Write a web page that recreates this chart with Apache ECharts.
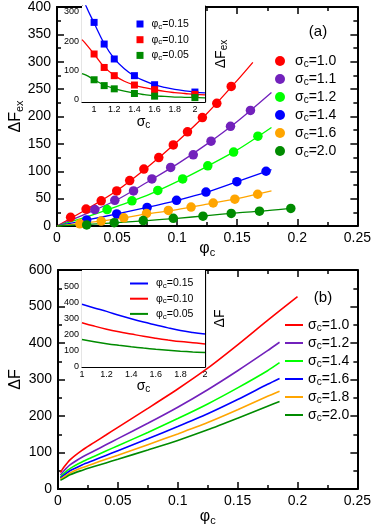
<!doctype html>
<html>
<head>
<meta charset="UTF-8"/>
<title>ΔF vs φc</title>
<script src="https://cdn.jsdelivr.net/npm/echarts@6/dist/echarts.min.js"></script>
<style>
html,body{margin:0;padding:0;background:#fff;}
#chart{width:374px;height:527px;}
</style>
</head>
<body>
<div id="chart"></div>
<script>
var FONT = "'Liberation Sans', Arial, sans-serif";

// ---- panel (a): simulation points (phi_c, dF_ex) and fitted lines
var sigmaA = ['1.0', '1.1', '1.2', '1.4', '1.6', '2.0'];
var colorsA = ['#ff0000', '#7221bc', '#00ff00', '#0000ff', '#ffa500', '#008b00'];

var ptsA10 = [[0.0113,16],[0.0242,31],[0.0368,46],[0.0497,64],[0.0605,83],[0.0723,104],[0.0847,125],[0.0968,148],[0.1086,172],[0.121,198],[0.133,224],[0.145,255]];
var ptsA11 = [[0.0315,30],[0.0481,47],[0.0637,64],[0.079,86],[0.0946,107],[0.1134,130],[0.1282,155],[0.1444,182],[0.161,211]];
var ptsA12 = [[0.0417,30],[0.0624,46],[0.0839,65],[0.1046,86],[0.1255,110],[0.147,135],[0.1672,164]];
var ptsA14 = [[0.0247,11],[0.0497,22],[0.075,34],[0.0995,47],[0.124,62],[0.1497,81],[0.174,100]];
var ptsA16 = [[0.019,4],[0.0368,9],[0.0556,15],[0.0745,23],[0.0927,28.5],[0.1116,34.5],[0.13,42],[0.148,49],[0.167,58]];
var ptsA20 = [[0.0247,2],[0.0476,6],[0.0718,10],[0.0968,14],[0.1215,18],[0.145,23],[0.1685,27],[0.1946,32]];

var fitA10 = [[0,0],[0.025,31],[0.05,65],[0.075,107],[0.1,154],[0.125,206],[0.15,266],[0.163,299]];
var fitA11 = [[0,0],[0.025,23],[0.05,48],[0.075,80],[0.1,113],[0.125,150],[0.15,191],[0.1785,244]];
var fitA12 = [[0,0],[0.025,17],[0.05,36],[0.075,56],[0.1,81],[0.125,109],[0.15,139],[0.1785,180]];
var fitA14 = [[0,0],[0.025,11],[0.05,22],[0.075,34],[0.1,47],[0.125,62],[0.15,81],[0.1785,103]];
var fitA16 = [[0,0],[0.025,6],[0.05,13],[0.075,22],[0.1,30],[0.125,40],[0.15,50],[0.1785,64]];
var fitA20 = [[0,0],[0.025,3],[0.05,6],[0.075,10],[0.1,14],[0.125,19],[0.15,24],[0.175,28],[0.198,33]];

// inset (a): dF_ex vs sigma_c
var phiIns = ['0.15', '0.10', '0.05'];
var colorsIns = ['#0000ff', '#ff0000', '#008b00'];
var sigPts = [1.0, 1.1, 1.2, 1.4, 1.6, 2.0];
var insA15 = [264, 190, 139, 82, 51, 26];
var insA10 = [156, 110, 82, 50, 34, 18];
var insA05 = [68, 48, 37, 21, 12, 7];
var sigFitA = [0.88, 0.92, 1.0, 1.1, 1.2, 1.3, 1.4, 1.5, 1.6, 1.7, 1.8, 1.9, 2.0, 2.1];
var fitInsA15 = [360, 320, 262, 192, 140, 106, 81, 64, 51, 42, 35, 30, 26, 23];
var fitInsA10 = [205, 190, 156, 112, 83, 63, 50, 41, 34, 28, 24, 21, 18, 16];
var fitInsA05 = [89, 84, 68, 50, 38, 29, 22, 17, 13, 11, 9, 8, 7, 6];

// ---- panel (b): dF vs phi_c
var sigmaB = ['1.0', '1.2', '1.4', '1.6', '1.8', '2.0'];
var colorsB = ['#ff0000', '#7221bc', '#00ff00', '#0000ff', '#ffa500', '#008b00'];
var phiB = [0.002, 0.005, 0.01, 0.02, 0.03, 0.04, 0.05, 0.075, 0.1, 0.125, 0.15, 0.175, 0.185];
var phiB10 = [0.002, 0.005, 0.01, 0.02, 0.03, 0.04, 0.05, 0.075, 0.1, 0.125, 0.15, 0.175, 0.2];
var curB10 = [45, 60, 80, 106, 127, 148, 169, 221, 274, 331, 395, 462, 527];
var curB12 = [38, 50, 66, 87, 104, 121, 138, 180, 224, 272, 324, 379, 402];
var curB14 = [33, 43, 56, 74, 89, 104, 118.5, 155, 193, 233, 277, 324, 346];
var curB16 = [30, 38, 50, 66, 79, 92, 105, 137.5, 171, 206, 245, 287, 303];
var curB18 = [27, 33, 44, 58, 70, 81.5, 92.5, 121.5, 151, 182, 217, 254, 268];
var curB20 = [24, 29, 39, 51, 61.5, 71.5, 81.5, 107, 133, 162, 194, 227, 240];

// inset (b): dF vs sigma_c
var sigB = [1.0, 1.1, 1.2, 1.3, 1.4, 1.5, 1.6, 1.7, 1.8, 1.9, 2.0];
var insB15 = [388, 365, 344, 320, 298, 278, 260, 242, 226, 214, 204];
var insB10 = [274, 253, 234, 218, 204, 190, 178, 167, 157, 150, 143];
var insB05 = [170, 156, 144, 134, 125, 117, 110, 104, 98, 93, 89];

function zip(xs, ys) {
    return ys.map(function (y, i) { return [xs[i], y]; });
}

var nameRich = {
    a: { fontSize: 16, lineHeight: 18, fontFamily: FONT, color: '#000' },
    b: { fontSize: 11, lineHeight: 6, verticalAlign: 'bottom', fontFamily: FONT, color: '#000' }
};
var nameRichSmall = {
    a: { fontSize: 14, lineHeight: 16, fontFamily: FONT, color: '#000' },
    b: { fontSize: 10, lineHeight: 5, verticalAlign: 'bottom', fontFamily: FONT, color: '#000' }
};

function axis(grid, pos, min, max, interval, label, small) {
    var lw = small ? 1.2 : 2;
    var o = {
        gridIndex: grid, type: 'value', position: pos, min: min, max: max,
        axisLine: { show: true, onZero: false, lineStyle: { color: '#000', width: lw } },
        axisTick: { show: true, inside: true, length: small ? 4 : 7, lineStyle: { color: '#000', width: small ? 1 : 1.5 } },
        minorTick: { show: true, splitNumber: 2, length: small ? 2.5 : 4, lineStyle: { color: '#000', width: small ? 1 : 1.5 } },
        splitLine: { show: false },
        minorSplitLine: { show: false },
        axisLabel: { show: label, color: '#000', fontSize: small ? 9 : 14, fontFamily: FONT, margin: small ? 3 : 5 },
        nameMoveOverlap: false
    };
    if (interval) o.interval = interval;
    return o;
}

// axes: 0 a-main, 1 a-inset, 2 b-main, 3 b-inset (bottom/top, left/right pairs)
var xAxes = [], yAxes = [];

var xa = axis(0, 'bottom', 0, 0.25, 0.05, true, false);
xa.name = '{a|φ}{b|c}'; xa.nameLocation = 'middle'; xa.nameGap = 14; xa.nameTextStyle = { rich: nameRich };
xAxes.push(xa, axis(0, 'top', 0, 0.25, 0.05, false, false));
var ya = axis(0, 'left', 0, 400, 50, true, false);
ya.axisLabel.margin = 6;
ya.name = '{a|ΔF}{b|ex}'; ya.nameLocation = 'middle'; ya.nameGap = 32; ya.nameRotate = 90; ya.nameTextStyle = { rich: nameRich };
yAxes.push(ya, axis(0, 'right', 0, 400, 50, false, false));

var xai = axis(1, 'bottom', 0.88, 2.1, null, true, true);
xai.axisLabel.customValues = [1, 1.2, 1.4, 1.6, 1.8, 2];
xai.axisLabel.formatter = function (v) { return String(Math.round(v * 10) / 10); };
xai.axisTick.customValues = [0.9, 1, 1.1, 1.2, 1.3, 1.4, 1.5, 1.6, 1.7, 1.8, 1.9, 2, 2.1];
xai.minorTick.show = false;
xai.name = '{a|σ}{b|c}'; xai.nameLocation = 'middle'; xai.nameGap = 12; xai.nameTextStyle = { rich: nameRichSmall };
var xait = axis(1, 'top', 0.88, 2.1, null, false, true);
xait.axisTick.customValues = xai.axisTick.customValues;
xait.minorTick.show = false;
xAxes.push(xai, xait);
var yai = axis(1, 'left', -8, 320, null, true, true);
yai.axisLabel.customValues = [0, 100, 200, 300];
yai.axisTick.customValues = [0, 50, 100, 150, 200, 250, 300];
yai.minorTick.show = false;
var yair = axis(1, 'right', -8, 320, null, false, true);
yair.axisTick.customValues = yai.axisTick.customValues;
yair.minorTick.show = false;
yair.name = '{a|ΔF}{b|ex}'; yair.nameLocation = 'middle'; yair.nameGap = 8; yair.nameRotate = 90; yair.nameTextStyle = { rich: nameRichSmall };
yAxes.push(yai, yair);

var xb = axis(2, 'bottom', 0, 0.25, 0.05, true, false);
xb.name = '{a|φ}{b|c}'; xb.nameLocation = 'middle'; xb.nameGap = 19; xb.nameTextStyle = { rich: nameRich };
xAxes.push(xb, axis(2, 'top', 0, 0.25, 0.05, false, false));
var yb = axis(2, 'left', 0, 600, 100, true, false);
yb.axisLabel.margin = 6;
yb.name = '{a|ΔF}'; yb.nameLocation = 'middle'; yb.nameGap = 33; yb.nameRotate = 90; yb.nameTextStyle = { rich: nameRich };
yAxes.push(yb, axis(2, 'right', 0, 600, 100, false, false));

var xbi = axis(3, 'bottom', 1, 2, 0.2, true, true);
xbi.axisLabel.formatter = function (v) { return String(Math.round(v * 10) / 10); };
xbi.name = '{a|σ}{b|c}'; xbi.nameLocation = 'middle'; xbi.nameGap = 11; xbi.nameTextStyle = { rich: nameRichSmall };
xAxes.push(xbi, axis(3, 'top', 1, 2, 0.2, false, true));
var ybi = axis(3, 'left', 0, 600, 100, true, true);
ybi.axisLabel.showMaxLabel = false;
var ybir = axis(3, 'right', 0, 600, 100, false, true);
ybir.name = '{a|ΔF}'; ybir.nameLocation = 'middle'; ybir.nameGap = 7; ybir.nameRotate = 90; ybir.nameTextStyle = { rich: nameRichSmall };
yAxes.push(ybi, ybir);

// series
var series = [];
var ptsA = [ptsA10, ptsA11, ptsA12, ptsA14, ptsA16, ptsA20];
var fitA = [fitA10, fitA11, fitA12, fitA14, fitA16, fitA20];
sigmaA.forEach(function (s, i) {
    series.push({
        name: 'fa' + s, type: 'line', xAxisIndex: 0, yAxisIndex: 0, data: fitA[i],
        showSymbol: false, smooth: 0.3, z: 2, lineStyle: { color: colorsA[i], width: 1.3 }, itemStyle: { color: colorsA[i] }
    });
    series.push({
        name: 'a' + s, type: 'scatter', xAxisIndex: 0, yAxisIndex: 0, data: ptsA[i],
        symbol: 'circle', symbolSize: 9.5, z: 3, itemStyle: { color: colorsA[i], opacity: 1 }
    });
});

var insAPts = [insA15, insA10, insA05];
var insAFit = [fitInsA15, fitInsA10, fitInsA05];
phiIns.forEach(function (p, i) {
    series.push({
        name: 'fi' + p, type: 'line', xAxisIndex: 2, yAxisIndex: 2, data: zip(sigFitA, insAFit[i]),
        showSymbol: false, smooth: 0.4, z: 4, lineStyle: { color: colorsIns[i], width: 1.3 }, itemStyle: { color: colorsIns[i] }
    });
    series.push({
        name: 'ia' + p, type: 'scatter', xAxisIndex: 2, yAxisIndex: 2, data: zip(sigPts, insAPts[i]),
        symbol: 'rect', symbolSize: 7, z: 5, itemStyle: { color: colorsIns[i], opacity: 1 }
    });
});

var curB = [curB10, curB12, curB14, curB16, curB18, curB20];
sigmaB.forEach(function (s, i) {
    series.push({
        name: 'b' + s, type: 'line', xAxisIndex: 4, yAxisIndex: 4, data: zip(i === 0 ? phiB10 : phiB, curB[i]),
        showSymbol: false, smooth: 0.25, z: 2, lineStyle: { color: colorsB[i], width: 1.6 }, itemStyle: { color: colorsB[i] }
    });
});

var insB = [insB15, insB10, insB05];
phiIns.forEach(function (p, i) {
    series.push({
        name: 'ib' + p, type: 'line', xAxisIndex: 6, yAxisIndex: 6, data: zip(sigB, insB[i]),
        showSymbol: false, smooth: 0.4, z: 4, lineStyle: { color: colorsIns[i], width: 1.5 }, itemStyle: { color: colorsIns[i] }
    });
});

var legRich = {
    s: { fontSize: 14, lineHeight: 16, fontFamily: FONT, color: '#000' },
    c: { fontSize: 10, lineHeight: 6, verticalAlign: 'bottom', fontFamily: FONT, color: '#000' }
};
var legRichSmall = {
    s: { fontSize: 10.5, lineHeight: 13, fontFamily: FONT, color: '#000', padding: [0, 0, 0, 3] },
    c: { fontSize: 8, lineHeight: 5, verticalAlign: 'bottom', fontFamily: FONT, color: '#000' },
    t: { fontSize: 10.5, lineHeight: 13, fontFamily: FONT, color: '#000' }
};

function legFmt(prefix, greek) {
    return function (name) {
        return '{s|' + greek + '}{c|c}{s|=' + name.slice(prefix.length) + '}';
    };
}
function legFmtSmall(prefix) {
    return function (name) {
        return '{s|φ}{c|c}{t|=' + name.slice(prefix.length) + '}';
    };
}

var chart = echarts.init(document.getElementById('chart'));
chart.setOption({
    animation: false,
    backgroundColor: '#fff',
    textStyle: { fontFamily: FONT },
    grid: [
        { left: 51, top: 6, width: 310, height: 220 },
        { left: 82, top: 6, width: 123, height: 96, show: true, backgroundColor: '#fff', borderWidth: 0, z: 3 },
        { left: 51, top: 270, width: 309, height: 220 },
        { left: 82, top: 270, width: 123, height: 97, show: true, backgroundColor: '#fff', borderWidth: 0, z: 3 }
    ],
    xAxis: xAxes,
    yAxis: yAxes,
    legend: [
        {
            data: sigmaA.map(function (s) { return 'a' + s; }),
            orient: 'vertical', left: 275, top: 54, itemWidth: 20, itemHeight: 10, itemGap: 3,
            icon: 'circle', selectedMode: false, padding: 0,
            textStyle: { rich: legRich }, formatter: legFmt('a', 'σ')
        },
        {
            data: phiIns.map(function (p) { return 'ia' + p; }),
            orient: 'vertical', left: 136.5, top: 18.5, itemWidth: 7, itemHeight: 7, itemGap: 3.7,
            icon: 'rect', selectedMode: false, padding: 0,
            textStyle: { rich: legRichSmall }, formatter: legFmtSmall('ia')
        },
        {
            data: sigmaB.map(function (s) { return 'b' + s; }),
            orient: 'vertical', left: 285, top: 318, itemWidth: 18, itemHeight: 2, itemGap: 3,
            icon: 'rect', selectedMode: false, padding: 0,
            textStyle: { rich: legRich }, formatter: legFmt('b', 'σ')
        },
        {
            data: phiIns.map(function (p) { return 'ib' + p; }),
            orient: 'vertical', left: 130, top: 278, itemWidth: 18, itemHeight: 2, itemGap: 3.2,
            icon: 'rect', selectedMode: false, padding: 0,
            textStyle: { rich: legRichSmall }, formatter: legFmtSmall('ib')
        }
    ],
    graphic: [
        { type: 'text', x: 318, y: 32, z: 10, style: { text: '(a)', font: '15px ' + FONT, fill: '#000', align: 'center', verticalAlign: 'middle' } },
        { type: 'text', x: 323, y: 298, z: 10, style: { text: '(b)', font: '15px ' + FONT, fill: '#000', align: 'center', verticalAlign: 'middle' } }
    ],
    series: series
});
</script>
</body>
</html>
